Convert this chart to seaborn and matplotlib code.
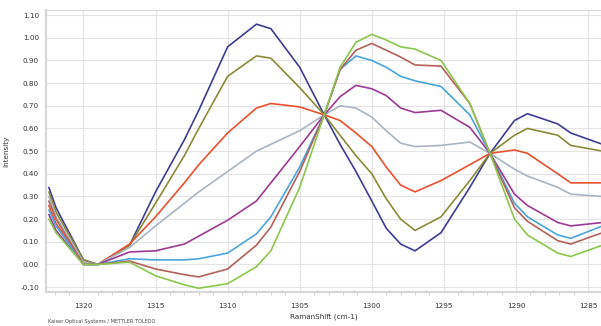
import seaborn as sns
import matplotlib.pyplot as plt
from matplotlib.ticker import MultipleLocator
import pandas as pd

# Raman shift positions (cm-1)
shift = [1322.4, 1321.9, 1320.0, 1319.0, 1316.8, 1315.0, 1313.0, 1312.0, 1310.0,
         1308.0, 1307.0, 1305.0, 1303.3, 1302.2, 1301.1, 1300.0, 1299.0, 1298.0,
         1297.0, 1295.2, 1293.2, 1291.8, 1290.1, 1289.2, 1287.1, 1286.2, 1284.0]

navy = [0.34, 0.25, 0.02, 0.00, 0.085, 0.32, 0.55, 0.68, 0.96,
        1.06, 1.04, 0.87, 0.66, 0.53, 0.41, 0.28, 0.16, 0.09,
        0.06, 0.14, 0.34, 0.49, 0.635, 0.665, 0.62, 0.58, 0.53]
olive = [0.32, 0.23, 0.02, 0.00, 0.085, 0.27, 0.48, 0.60, 0.83,
         0.92, 0.91, 0.78, 0.66, 0.57, 0.48, 0.40, 0.29, 0.20,
         0.15, 0.21, 0.37, 0.49, 0.57, 0.60, 0.57, 0.525, 0.50]
red = [0.26, 0.18, 0.01, 0.00, 0.09, 0.21, 0.36, 0.44, 0.58,
       0.69, 0.71, 0.695, 0.66, 0.635, 0.58, 0.52, 0.43, 0.35,
       0.32, 0.37, 0.44, 0.49, 0.505, 0.49, 0.40, 0.36, 0.36]
grey = [0.30, 0.21, 0.01, 0.00, 0.075, 0.17, 0.27, 0.32, 0.41,
        0.50, 0.53, 0.59, 0.66, 0.70, 0.69, 0.65, 0.59, 0.535,
        0.52, 0.525, 0.54, 0.49, 0.42, 0.39, 0.34, 0.31, 0.30]
purple = [0.22, 0.15, 0.00, 0.00, 0.055, 0.06, 0.09, 0.125, 0.195,
          0.28, 0.36, 0.52, 0.66, 0.74, 0.79, 0.775, 0.745, 0.69,
          0.67, 0.68, 0.605, 0.49, 0.31, 0.26, 0.185, 0.17, 0.185]
lightblue = [0.24, 0.17, 0.00, 0.00, 0.025, 0.02, 0.02, 0.025, 0.05,
             0.135, 0.21, 0.43, 0.66, 0.86, 0.92, 0.90, 0.87, 0.83,
             0.81, 0.785, 0.66, 0.49, 0.27, 0.21, 0.13, 0.115, 0.17]
brown = [0.28, 0.20, 0.00, 0.00, 0.015, -0.02, -0.045, -0.055, -0.02,
         0.085, 0.165, 0.41, 0.66, 0.86, 0.945, 0.975, 0.945, 0.915,
         0.88, 0.875, 0.71, 0.49, 0.25, 0.19, 0.105, 0.09, 0.14]
green = [0.20, 0.14, 0.00, 0.00, 0.01, -0.05, -0.09, -0.105, -0.085,
         -0.01, 0.06, 0.34, 0.66, 0.87, 0.98, 1.015, 0.99, 0.96,
         0.95, 0.90, 0.71, 0.49, 0.20, 0.13, 0.05, 0.035, 0.085]

series = {'s1': navy, 's2': olive, 's3': red, 's4': grey,
          's5': purple, 's6': lightblue, 's7': brown, 's8': green}
colors = {'s1': '#3d3d92', 's2': '#8a8a3a', 's3': '#e8512f', 's4': '#a9b5c1',
          's5': '#9c3a94', 's6': '#4aa5dc', 's7': '#b3615a', 's8': '#8cc64e'}

rows = []
for name, vals in series.items():
    for x, y in zip(shift, vals):
        rows.append((name, x, y))
df = pd.DataFrame(rows, columns=['spectrum', 'shift', 'intensity'])

sns.set_style("whitegrid", {'grid.color': '#e6e6e6', 'axes.edgecolor': '#d0d0d0'})
plt.rcParams['font.family'] = ['DejaVu Sans']

fig = plt.figure(figsize=(6.01, 3.26), dpi=100)
ax = fig.add_axes([0.0765, 0.104, 0.9235, 0.865])

sns.lineplot(data=df, x='shift', y='intensity', hue='spectrum', palette=colors,
             linewidth=1.2, legend=False, ax=ax, sort=False)

ax.set_xlim(1322.6, 1284.1)
ax.set_ylim(-0.122, 1.122)
ax.xaxis.set_major_locator(MultipleLocator(5))
ax.xaxis.set_minor_locator(MultipleLocator(1))
ax.yaxis.set_major_locator(MultipleLocator(0.1))
ax.yaxis.set_major_formatter(plt.FormatStrFormatter('%.2f'))
ax.xaxis.set_major_formatter(plt.FormatStrFormatter('%d'))
ax.tick_params(axis='both', labelsize=5.2, colors='#333333', length=0, pad=5)
ax.tick_params(axis='x', pad=8)
ax.tick_params(axis='x', which='minor', length=2, color='#c8c8c8', bottom=True)
ax.grid(True, which='major', color='#e4e4e4', linewidth=0.8)
ax.grid(False, which='minor')
for s in ax.spines.values():
    s.set_color('#d8d8d8')
    s.set_linewidth(0.8)
ax.spines['bottom'].set_linewidth(1.6)
ax.spines['left'].set_linewidth(1.6)

ax.set_xlabel('RamanShift (cm-1)', fontsize=5.2, color='#333333', labelpad=3)
ax.set_ylabel('Intensity', fontsize=5.2, color='#333333', labelpad=8)
fig.text(0.08, 0.006, 'Kaiser Optical Systems / METTLER TOLEDO', fontsize=3.6,
         color='#444444', ha='left', va='bottom')

fig.savefig('out.png', dpi=100, facecolor='white')
